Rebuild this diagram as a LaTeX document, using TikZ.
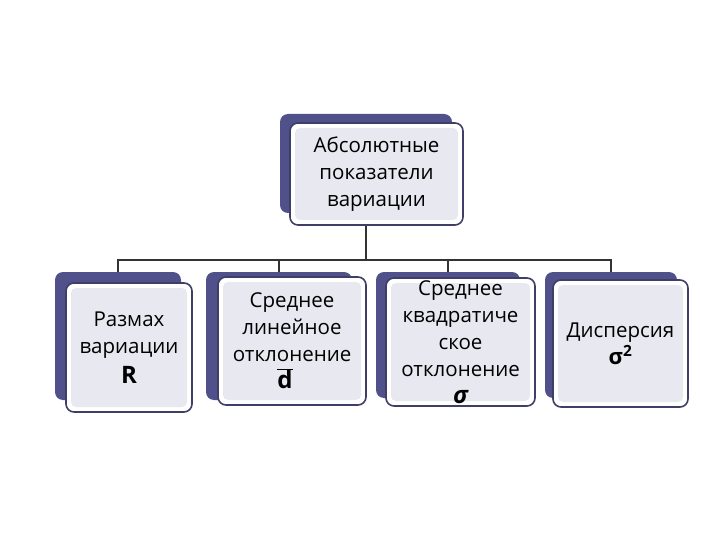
\documentclass[tikz,border=0pt]{standalone}
\usepackage{fontspec}
\setmainfont{Open Sans}
\usetikzlibrary{backgrounds}
\definecolor{backc}{HTML}{50508A}
\definecolor{edgec}{HTML}{3E3E66}
\definecolor{innerc}{HTML}{E7E8F0}
\definecolor{connc}{HTML}{333333}
\tikzset{
  backbox/.style={fill=backc, rounded corners=8pt, inner sep=0pt, draw=none},
  frontbox/.style={fill=white, draw=edgec, line width=1.6pt, rounded corners=8pt, inner sep=0pt,
    align=center, font=\fontsize{20.5}{27}\selectfont,
    path picture={\fill[innerc, rounded corners=5pt]
      ([shift={(5pt,-5pt)}]path picture bounding box.north west) rectangle
      ([shift={(-5pt,5pt)}]path picture bounding box.south east);}},
  conn/.style={draw=connc, line width=1.3pt}
}
\newcommand\bigsym{\fontsize{24}{27}\selectfont}
\begin{document}
\begin{tikzpicture}[x=1pt,y=-1pt]
\useasboundingbox (0,0) rectangle (720,540);
% top
\node[backbox, minimum width=172pt, minimum height=99pt] (b0) at (366,163.5) {};
\node[frontbox, minimum width=173pt, minimum height=102pt] (f0) at (376.5,174) {Абсолютные\\показатели\\вариации};
% bottom
\node[backbox, minimum width=126pt, minimum height=128pt] (b1) at (118,336) {};
\node[frontbox, minimum width=126pt, minimum height=129pt] (f1) at (129,347.5) {Размах\\вариации\\[3pt]{\bigsym\bfseries R}};
\node[backbox, minimum width=146pt, minimum height=128pt] (b2) at (279,336) {};
\node[frontbox, minimum width=148pt, minimum height=128pt] (f2) at (292,341) {Среднее\\линейное\\отклонение\\{\bigsym$\overline{\mathbf{d}}$}\hspace*{14pt}};
\node[backbox, minimum width=144pt, minimum height=126pt] (b3) at (448,335) {};
\node[frontbox, minimum width=149pt, minimum height=128pt] (f3) at (460.5,342) {Среднее\\квадратиче\\ское\\отклонение\\{\bigsym\bfseries\itshape σ}};
\node[backbox, minimum width=132pt, minimum height=126pt] (b4) at (611,335) {};
\node[frontbox, minimum width=135pt, minimum height=127pt] (f4) at (620.5,343.5) {Дисперсия\\[0pt]{\fontsize{22}{26}\selectfont\bfseries σ\textsuperscript{2}}};
\coordinate (hub) at (366,260);
\begin{scope}[on background layer]
\draw[conn] (b0.south) -- (hub);
\draw[conn] (b1.north) |- (b4.north |- hub) -- (b4.north);
\draw[conn] (b2.north) -- (b2.north |- hub);
\draw[conn] (b3.north) -- (b3.north |- hub);
\end{scope}
\end{tikzpicture}
\end{document}
